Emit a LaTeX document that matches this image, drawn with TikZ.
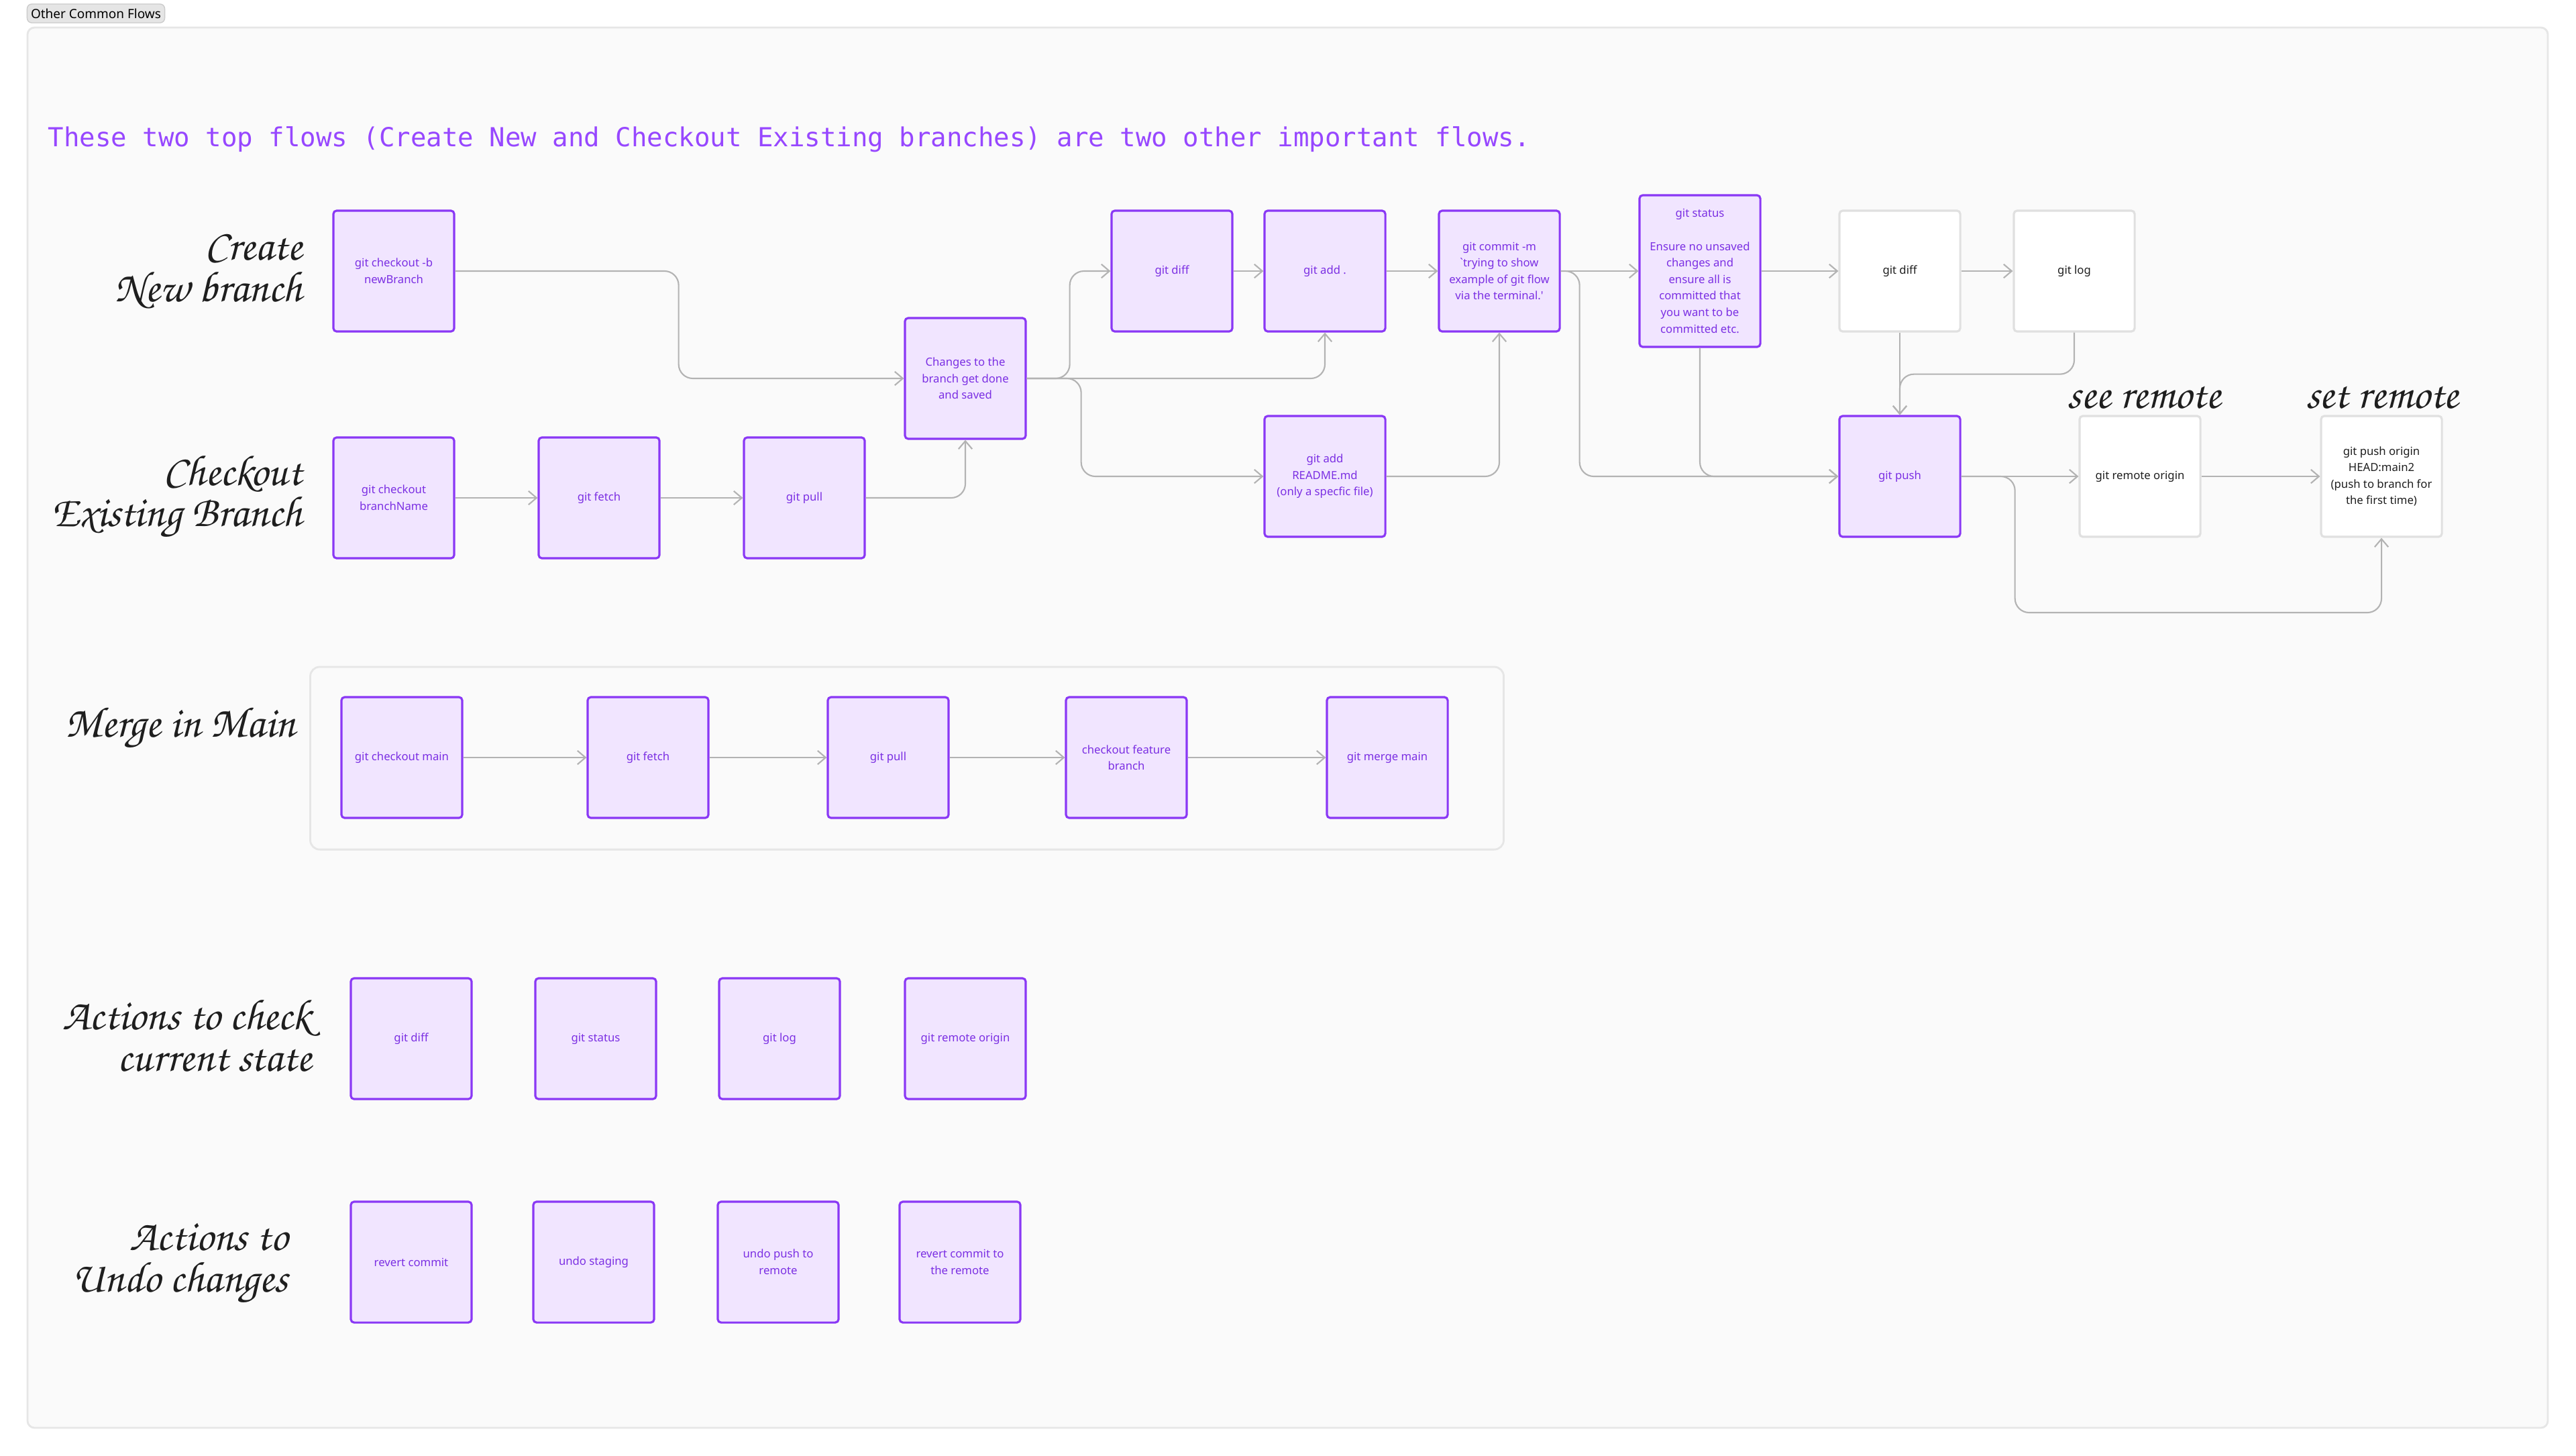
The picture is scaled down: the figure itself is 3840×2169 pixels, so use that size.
\documentclass[tikz,border=0pt]{standalone}
\usepackage{fontspec}
\usepackage{tikz}
\usetikzlibrary{arrows.meta,positioning,calc}
\usepackage{xcolor}
\newfontfamily\boxfont{Noto Sans}
\newfontfamily\headfont{DejaVu Sans Mono}
\newfontfamily\handfont[Extension=.otf]{texgyrechorus-mediumitalic}
\definecolor{flowpurple}{HTML}{8A38F5}
\definecolor{flowfill}{HTML}{F1E5FF}
\definecolor{flowtext}{HTML}{7B2FE3}
\definecolor{headpurple}{HTML}{9747FF}
\definecolor{wirecol}{HTML}{B3B3B3}
\definecolor{panelfill}{HTML}{FAFAFA}
\definecolor{panelline}{HTML}{E6E6E6}
\definecolor{plainline}{HTML}{E0E0E0}
\definecolor{inkcol}{HTML}{1E1E1E}

\begin{document}
\begin{tikzpicture}[x=0.01cm,y=-0.01cm,
    cmd/.style={draw=flowpurple,fill=flowfill,line width=0.9pt,rounded corners=1.4pt,
      minimum width=1.8cm,minimum height=1.8cm,align=center,text=flowtext,
      font=\boxfont\fontsize{4.75}{7}\selectfont,inner sep=1pt},
    plain/.style={cmd,draw=plainline,fill=white,text=inkcol},
    hand/.style={font=\handfont\fontsize{18.4}{17.6}\selectfont,text=inkcol,align=right,inner sep=0pt},
    wire/.style={draw=wirecol,line width=0.6pt,rounded corners=6pt,
      -{Straight Barb[length=3.4pt,width=5.8pt]}}]
                    \useasboundingbox (0,0) rectangle (3840,2169);
                    \fill[white] (0,0) rectangle (3840,2169);
                    \draw[panelline,fill=panelfill,line width=0.8pt,rounded corners=3pt] (41,41) rectangle (3798,2128);
                    \node[draw=black!20,fill=black!10,rounded corners=2pt,minimum width=2.05cm,minimum height=0.28cm,
                        inner sep=0pt,font=\boxfont\fontsize{5.4}{6}\selectfont] (tag) at (143,20) {Other Common Flows};
                    \node[anchor=west,inner sep=0pt,text=headpurple,font=\headfont\fontsize{11.1}{13}\selectfont] (title) at (71,208)
                        {These two top flows (Create New and Checkout Existing branches) are two other important flows.};
                    % row labels
                    \node[hand,anchor=east] (lblnew) at (451,405) {Create\\New branch};
                    \node[hand,anchor=east] (lblchk) at (451,740) {Checkout\\Existing Branch};
                    \node[hand,anchor=east] (lblmerge) at (441,1085) {Merge in Main};
                    \node[hand,anchor=east] (lblcheck) at (465,1544) {Actions to check\\current state};
                    \node[hand,anchor=east] (lblundo) at (430,1882) {Actions to\\Undo changes};
                    \node[hand,align=center] (lblsee) at (3196,593) {see remote};
                    \node[hand,align=center] (lblset) at (3551,593) {set remote};
                    % create / checkout flows
                    \node[cmd] (newbr) at (587,404) {git checkout -b\\newBranch};
                    \node[cmd] (chkbr) at (587,742) {git checkout\\branchName};
                    \node[cmd] (fetch) at (893,742) {git fetch};
                    \node[cmd] (pull) at (1199,742) {git pull};
                    \node[cmd] (changes) at (1439,564) {Changes to the\\branch get done\\and saved};
                    \node[cmd] (diff) at (1747,404) {git diff};
                    \node[cmd] (addall) at (1975,404) {git add .};
                    \node[cmd] (readme) at (1975,710) {git add\\README.md\\(only a specfic file)};
                    \node[cmd] (commit) at (2235,404) {git commit -m\\`trying to show\\example of git flow\\via the terminal.'};
                    \node[cmd,minimum height=2.26cm] (status) at (2534,404)
                        {git status\\[7pt]Ensure no unsaved\\changes and\\ensure all is\\committed that\\you want to be\\committed etc.};
                    \node[plain] (diffw) at (2832,404) {git diff};
                    \node[plain] (logw) at (3092,404) {git log};
                    \node[cmd] (push) at (2832,710) {git push};
                    \node[plain] (remote) at (3190,710) {git remote origin};
                    \node[plain] (porig) at (3550,710) {git push origin\\HEAD:main2\\(push to branch for\\the first time)};
                    \draw[wire] (newbr.east) -- ++(333,0) |- (changes.west);
                    \draw[wire] (chkbr.east) -- (fetch.west);
                    \draw[wire] (fetch.east) -- (pull.west);
                    \draw[wire] (pull.east) -| (changes.south);
                    \draw[wire] (changes.east) -- ++(64,0) |- (diff.west);
                    \draw[wire] (changes.east) -| (addall.south);
                    \draw[wire] (changes.east) -- ++(81,0) |- (readme.west);
                    \draw[wire] (diff.east) -- (addall.west);
                    \draw[wire] (addall.east) -- (commit.west);
                    \draw[wire] (readme.east) -| (commit.south);
                    \draw[wire] (commit.east) -- (status.west);
                    \draw[wire] (commit.east) -- ++(28,0) |- (push.west);
                    \draw[wire] (status.south) |- (push.west);
                    \draw[wire] (status.east) -- (diffw.west);
                    \draw[wire] (diffw.east) -- (logw.west);
                    \draw[wire] (diffw.south) -- (push.north);
                    \draw[wire] (logw.south) -- ++(0,62) -| (push.north);
                    \draw[wire] (push.east) -- (remote.west);
                    \draw[wire] (remote.east) -- (porig.west);
                    \draw[wire] (push.east) -- ++(80,0) -- ++(0,203) -| (porig.south);
                    % merge in main
                    \node[draw=panelline,fill=panelfill,line width=0.8pt,rounded corners=4pt,
                        minimum width=17.78cm,minimum height=2.72cm] (mergegrp) at (1352,1130) {};
                    \node[cmd] (mcheck) at (599,1129) {git checkout main};
                    \node[cmd] (mfetch) at (966,1129) {git fetch};
                    \node[cmd] (mpull) at (1324,1129) {git pull};
                    \node[cmd] (mfeat) at (1679,1129) {checkout feature\\branch};
                    \node[cmd] (mmerge) at (2068,1129) {git merge main};
                    \draw[wire] (mcheck.east) -- (mfetch.west);
                    \draw[wire] (mfetch.east) -- (mpull.west);
                    \draw[wire] (mpull.east) -- (mfeat.west);
                    \draw[wire] (mfeat.east) -- (mmerge.west);
                    % check state
                    \node[cmd] (cdiff) at (613,1548) {git diff};
                    \node[cmd] (cstatus) at (888,1548) {git status};
                    \node[cmd] (clog) at (1162,1548) {git log};
                    \node[cmd] (cremote) at (1439,1548) {git remote origin};
                    % undo changes
                    \node[cmd] (urevert) at (613,1881) {revert commit};
                    \node[cmd] (ustage) at (885,1881) {undo staging};
                    \node[cmd] (upush) at (1160,1881) {undo push to\\remote};
                    \node[cmd] (uremote) at (1431,1881) {revert commit to\\the remote};
                \end{tikzpicture}
\end{document}
